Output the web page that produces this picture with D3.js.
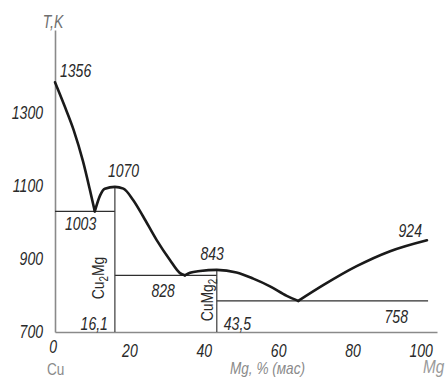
<!DOCTYPE html>
<html><head><meta charset="utf-8">
<script src="https://cdn.jsdelivr.net/npm/d3@7"></script>
<style>html,body{margin:0;padding:0;background:#fff;overflow:hidden}</style>
</head><body>
<svg id="chart" width="447" height="379"></svg>
<script>
// ---- data ----
const xTicks = [0, 20, 40, 60, 80, 100];
const yTicks = [700, 900, 1100, 1300];
// liquidus branches: [Mg % (mass), T K]
const branchCu     = [[0,1356],[2.5,1293],[5.0,1226],[7.5,1141],[9.4,1061],[10.7,1003]];
const branchCu2Mg  = [[10.7,1003],[12.1,1046],[13.4,1065],[16.1,1070],[18.4,1065],[21.0,1034],[23.7,989],[27.3,925],[30.9,870],[33.6,834],[34.9,828]];
const branchCuMg2  = [[34.9,828],[36.3,835],[39.0,840],[43.5,843],[48.8,836],[53.3,819],[57.8,798],[62.3,772],[65.4,758]];
const branchMg     = [[65.4,758],[72.1,801],[81.1,853],[90.1,894],[100,924]];
// eutectic horizontals
const eutT  = [1003, 828, 758];
const eutX0 = [0, 16.1, 43.5];
const eutX1 = [16.1, 43.5, 100.3];
// compounds
const compX    = [16.1, 43.5];
const compTmax = [1070, 843];
const compLabelX = ["16,1", "43,5"];

const svg = d3.select("#chart");
const x = d3.scaleLinear().domain([0, 102.7]).range([55, 437]);
const y = d3.scaleLinear().domain([673, 1499]).range([332, 30]);

const FONT = "'Liberation Sans', Arial, sans-serif";
const SX = 0.78;

// axes
const xAxis = svg.append("g").attr("transform", `translate(0,${y(673)})`)
  .call(d3.axisBottom(x).tickValues(xTicks).tickSize(0).tickPadding(12).tickFormat(d3.format("d")));
const yAxis = svg.append("g").attr("transform", `translate(${x(0)},0)`)
  .call(d3.axisLeft(y).tickValues(yTicks).tickSize(0).tickPadding(13).tickFormat(d3.format("d")));
[xAxis, yAxis].forEach(a => {
  a.select(".domain").attr("stroke", "#8a8a8a").attr("stroke-width", 1.6);
  a.selectAll("text").attr("font-family", FONT).attr("font-size", 18)
    .attr("font-style", "italic").attr("fill", "#2a2a2a");
});
xAxis.selectAll(".tick text").attr("transform", `scale(${SX},1)`)
  .attr("dx", d => d === 0 ? -3 : d === 100 ? -8 : 0)
  .attr("y", d => d === 0 ? 8 : 12);
yAxis.selectAll(".tick text").attr("x", -12 / SX).attr("y", 10)
  .attr("transform", `scale(${SX},1)`);

// eutectic lines
svg.append("g").selectAll("line").data(eutT).join("line")
  .attr("x1", (d,i) => x(eutX0[i])).attr("x2", (d,i) => x(eutX1[i]))
  .attr("y1", d => y(d)).attr("y2", d => y(d))
  .attr("stroke", "#2e2e2e").attr("stroke-width", 1.3);

// compound verticals
svg.append("g").selectAll("line").data(compX).join("line")
  .attr("x1", d => x(d)).attr("x2", d => x(d))
  .attr("y1", (d,i) => y(compTmax[i])).attr("y2", y(673))
  .attr("stroke", "#3a3a3a").attr("stroke-width", 1.2);

// liquidus
const line = d3.line().x(d => x(d[0])).y(d => y(d[1])).curve(d3.curveMonotoneX);
svg.append("g").selectAll("path").data([branchCu, branchCu2Mg, branchCuMg2, branchMg]).join("path")
  .attr("d", line).attr("fill", "none").attr("stroke", "#1a1a1a")
  .attr("stroke-width", 2.6).attr("stroke-linejoin", "round").attr("stroke-linecap", "round");

// annotation helper
function ann(txt, px, py, anchor, opt = {}) {
  return svg.append("text")
    .attr("transform", `translate(${px},${py}) scale(${opt.sx || SX},1)`)
    .attr("text-anchor", anchor)
    .attr("font-family", FONT).attr("font-size", opt.size || 18)
    .attr("font-style", opt.upright ? "normal" : "italic")
    .attr("fill", opt.fill || "#2a2a2a").text(txt);
}
ann("1356", x(0) + 5, y(1356) - 5, "start");
ann("1070", x(16.1) - 7, y(1070) - 10, "start");
ann("1003", x(0) + 10, y(1003) + 18.5, "start");
ann("828", x(34.9) - 10, y(828) + 22, "end");
ann("843", x(43.5) + 7, y(843) - 10, "end");
ann("758", x(100) - 19, y(758) + 22, "end");
ann("924", x(100) - 5, y(924) - 3, "end");
compLabelX.forEach((t, i) => {
  ann(t, x(compX[i]) + (i === 0 ? -7 : 7), y(673) - 2, i === 0 ? "end" : "start");
});
ann("T,K", x(0) - 2, 28, "middle", {fill: "#6f6f6f"});
ann("Cu", 47, 375, "start", {fill: "#8a8a8a", upright: true, sx: 0.85, size: 16});
ann("Mg, % (мас)", 230, 374, "start", {fill: "#8a8a8a", size: 16, sx: 0.85});
ann("Mg", 423, 373, "start", {fill: "#9a9a9a", size: 18, sx: 0.85});

// rotated compound labels
function comp(parts, cx, cy) {
  const t = svg.append("text")
    .attr("transform", `translate(${cx},${cy}) rotate(-90) scale(0.82,1)`)
    .attr("text-anchor", "middle").attr("font-family", FONT).attr("font-size", 17)
    .attr("fill", "#2a2a2a");
  parts.forEach(p => {
    t.append("tspan").text(p[0])
      .attr("font-size", p[1] ? 12 : 17)
      .attr("dy", p[1] ? 4 : (p[2] ? -4 : 0));
  });
}
comp([["Cu"], ["2", true], ["Mg", false, true]], x(16.1) - 11, 278);
comp([["CuMg"], ["2", true]], x(43.5) - 4, 300);
</script>
</body></html>
